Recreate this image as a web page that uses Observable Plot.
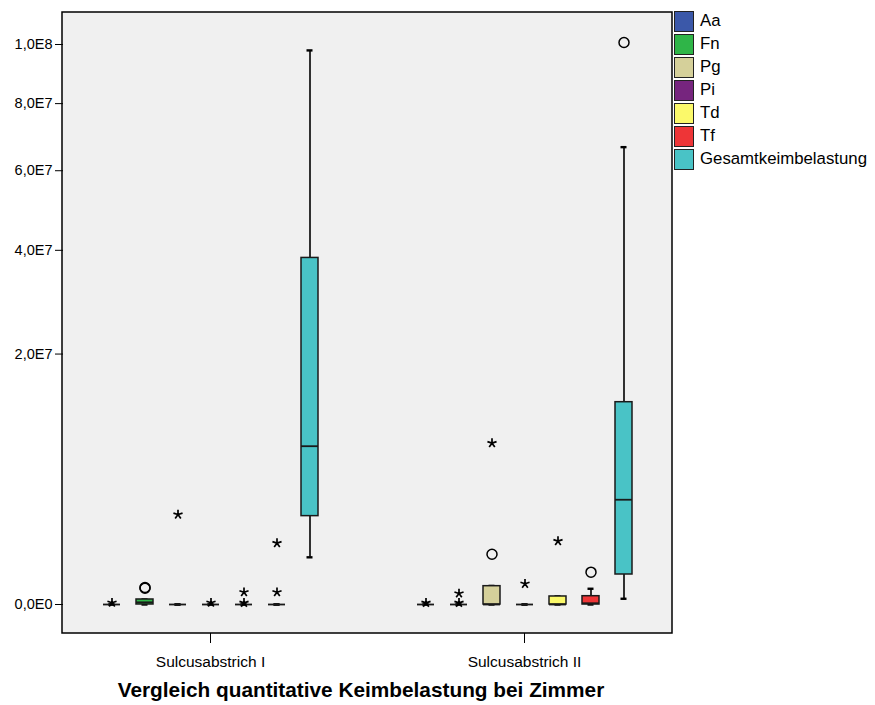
<!DOCTYPE html>
<html>
<head>
<meta charset="utf-8">
<script src="https://cdn.jsdelivr.net/npm/d3@7"></script>
<script src="https://cdn.jsdelivr.net/npm/@observablehq/plot@0.6"></script>
<style>
  body { margin: 0; background: #fff; font-family: "Liberation Sans", Arial, sans-serif; }
  #wrap { position: relative; width: 875px; }
  #legend { position: absolute; left: 674px; top: 11px; }
  .item { display: flex; align-items: center; height: 20px; margin-bottom: 3px; font-size: 16.8px; color: #000; }
  .sw { width: 18px; height: 19px; border: 1px solid #222; margin-right: 6px; box-sizing: content-box; }
  #title { width: 722px; text-align: center; font-weight: bold; font-size: 20.8px; line-height: 24px; color: #000; }
</style>
</head>
<body>
<div id="wrap">
  <div id="chart"></div>
  <div id="legend"></div>
  <div id="title">Vergleich quantitative Keimbelastung bei Zimmer</div>
</div>
<script>
// Sampling sites and bacteria (box order within each site)
const groups = ["Sulcusabstrich I", "Sulcusabstrich II"];
const series = ["Aa", "Fn", "Pg", "Pi", "Td", "Tf", "Gesamtkeimbelastung"];
const seriesColors = ["#3b58a9", "#2fb548", "#d5d09a", "#76257e", "#fbf96a", "#ee3537", "#49c3c6"];

// Box statistics per site, one value per bacterium (same order as `series`)
const whiskerLow = [
  [0, 0, 0, 0, 0, 0, 7.1e5],
  [0, 0, 0, 0, 0, 0, 1.05e4]
];
const quartile1 = [
  [0, 0, 0, 0, 0, 0, 2.49e6],
  [0, 0, 0, 0, 0, 0, 2.87e5]
];
const medians = [
  [0, 1500, 0, 0, 0, 0, 7.99e6],
  [0, 0, 0, 0, 0, 500, 3.5e6]
];
const quartile3 = [
  [0, 8000, 0, 0, 0, 0, 3.83e7],
  [0, 0, 1.07e5, 0, 2.05e4, 2.2e4, 1.305e7]
];
const whiskerHigh = [
  [0, 8000, 0, 0, 0, 0, 9.79e7],
  [0, 0, 1.1e5, 0, 2.1e4, 7.9e4, 6.67e7]
];

// Outliers (circles) and extreme values (stars): [site, bacterium, value]
const circleOutliers = [
  ["Sulcusabstrich I", "Fn", 8.5e4],
  ["Sulcusabstrich I", "Fn", 9.2e4],
  ["Sulcusabstrich II", "Pg", 8.07e5],
  ["Sulcusabstrich II", "Tf", 3.33e5],
  ["Sulcusabstrich II", "Gesamtkeimbelastung", 1.007e8]
];
const starOutliers = [
  ["Sulcusabstrich I", "Aa", 1000],
  ["Sulcusabstrich I", "Pg", 2.58e6],
  ["Sulcusabstrich I", "Pi", 1000],
  ["Sulcusabstrich I", "Td", 800],
  ["Sulcusabstrich I", "Td", 4.8e4],
  ["Sulcusabstrich I", "Tf", 1.2e6],
  ["Sulcusabstrich I", "Tf", 4.8e4],
  ["Sulcusabstrich II", "Aa", 800],
  ["Sulcusabstrich II", "Fn", 800],
  ["Sulcusabstrich II", "Fn", 3.9e4],
  ["Sulcusabstrich II", "Pg", 8.3e6],
  ["Sulcusabstrich II", "Pi", 1.37e5],
  ["Sulcusabstrich II", "Td", 1.28e6]
];

const yTicks = [0, 2e7, 4e7, 6e7, 8e7, 1e8];

// Table of box rows built from the arrays above
const stats = groups.flatMap((g, gi) => series.map((s, si) => ({
  group: g, series: s,
  lo: whiskerLow[gi][si], q1: quartile1[gi][si], med: medians[gi][si],
  q3: quartile3[gi][si], hi: whiskerHigh[gi][si]
})));
const circles = circleOutliers.map(([group, s, value]) => ({group, series: s, value}));
const stars = starOutliers.map(([group, s, value]) => ({group, series: s, value}));

// SPSS-style number format: 2,0E7
function sci(v) {
  if (v === 0) return "0,0E0";
  const e = Math.floor(Math.log10(v) + 1e-9);
  const m = v / Math.pow(10, e);
  return m.toFixed(1).replace(".", ",") + "E" + e;
}

// Five-armed asterisk used for extreme values
const asterisk5 = {
  draw(context, size) {
    const r = Math.sqrt(size / Math.PI);
    for (let i = 0; i < 5; i++) {
      const a = -Math.PI / 2 + i * 2 * Math.PI / 5;
      context.moveTo(0, 0);
      context.lineTo(r * Math.cos(a), r * Math.sin(a));
    }
  }
};

const W = 875, H = 678, mL = 62, mR = 203, mT = 12, mB = 45;

const plot = Plot.plot({
  width: W, height: H,
  marginLeft: mL, marginRight: mR, marginTop: mT, marginBottom: mB,
  style: {fontFamily: "Liberation Sans, Arial, sans-serif", fontSize: "14.5px", background: "transparent", color: "#000"},
  fx: {domain: groups, paddingInner: 0.0633, paddingOuter: 0, axis: "bottom", label: null, tickSize: 10, tickPadding: 12},
  x: {domain: series, paddingInner: 0.49, paddingOuter: 1.175, axis: null},
  y: {type: "sqrt", domain: [0, 1e8], insetTop: 32, insetBottom: 29, ticks: yTicks, tickFormat: sci, tickSize: 8, tickPadding: 3, label: null, grid: false},
  color: {domain: series, range: seriesColors},
  marks: [
    Plot.ruleX(stats, {fx: "group", x: "series", y1: "lo", y2: "hi", stroke: "#000", strokeWidth: 1.6}),
    Plot.tickY(stats, {fx: "group", x: "series", y: "hi", stroke: "#000", strokeWidth: 2.4, insetLeft: 5.5, insetRight: 5.5}),
    Plot.tickY(stats, {fx: "group", x: "series", y: "lo", stroke: "#000", strokeWidth: 2.4, insetLeft: 5.5, insetRight: 5.5}),
    Plot.barY(stats, {fx: "group", x: "series", y1: "q1", y2: "q3", fill: "series", stroke: "#1a1a1a", strokeWidth: 1.5}),
    Plot.tickY(stats, {fx: "group", x: "series", y: "med", stroke: "#1a1a1a", strokeWidth: 1.8}),
    Plot.dot(circles, {fx: "group", x: "series", y: "value", r: 5, stroke: "#000", strokeWidth: 1.5, fill: "none"}),
    Plot.dot(stars, {fx: "group", x: "series", y: "value", r: 4.8, symbol: asterisk5, stroke: "#000", strokeWidth: 1.7})
  ]
});

// Grey plotting area with a black frame spanning both sites
const svg = d3.select(plot);
svg.insert("rect", ":first-child")
  .attr("x", mL).attr("y", mT)
  .attr("width", W - mL - mR).attr("height", H - mT - mB)
  .attr("fill", "#f0f0f0").attr("stroke", "#000").attr("stroke-width", 1.5);
svg.selectAll('[aria-label^="fx-axis"] text').style("font-size", "15.5px");

document.getElementById("chart").appendChild(plot);

// Legend
const legend = d3.select("#legend");
series.forEach((s, i) => {
  const it = legend.append("div").attr("class", "item");
  it.append("div").attr("class", "sw").style("background", seriesColors[i]);
  it.append("span").text(s);
});
</script>
</body>
</html>
